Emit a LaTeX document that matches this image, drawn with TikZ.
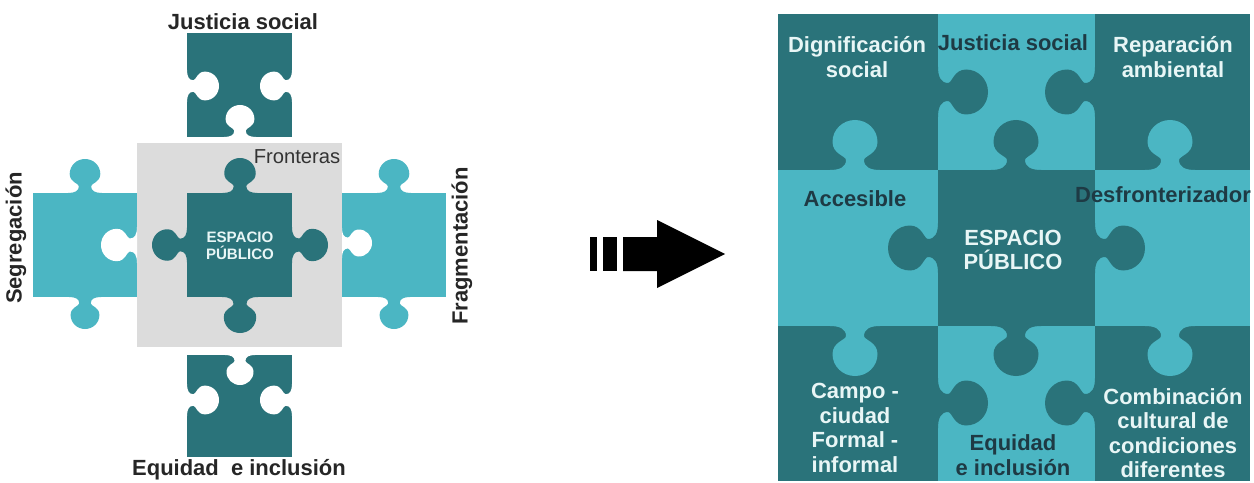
\documentclass[tikz,border=0pt]{standalone}
\usepackage{fontspec}
\setmainfont{Liberation Sans}
\definecolor{dk}{HTML}{2A737A}
\definecolor{lt}{HTML}{4BB6C3}
\definecolor{gr}{HTML}{DCDCDC}
\definecolor{txd}{HTML}{1E3A44}
\definecolor{txl}{HTML}{E8F6F6}
\newcommand{\jtab}[5]{%
  \fill[#1, shift={(#2,#3)}, rotate=#4, scale=#5]
    (-0.5,0) .. controls (-0.3,0) and (-0.18,0.06) .. (-0.18,0.2)
    .. controls (-0.18,0.28) and (-0.45,0.32) .. (-0.45,0.56)
    .. controls (-0.45,0.81) and (-0.245,1) .. (0,1)
    .. controls (0.245,1) and (0.45,0.81) .. (0.45,0.56)
    .. controls (0.45,0.32) and (0.18,0.28) .. (0.18,0.2)
    .. controls (0.18,0.06) and (0.3,0) .. (0.5,0) -- cycle;}
\tikzset{
  lbl/.style={font=\bfseries\fontsize{12.5}{14}\selectfont, text=black!85, inner sep=0pt},
  gl/.style={font=\bfseries\fontsize{12.5}{14}\selectfont, align=center, inner sep=0pt},
}
\begin{document}
\begin{tikzpicture}[x=0.02cm,y=-0.02cm]
\useasboundingbox (0,0) rectangle (1254,483);
\fill[white] (0,0) rectangle (1254,483);
% ---------- left diagram ----------
\fill[gr] (137,143) rectangle (342,347);
% top piece
\fill[dk] (187,33) rectangle (292,137);
\jtab{white}{187}{86}{90}{32}
\jtab{white}{292}{86}{-90}{32}
\jtab{white}{240}{137}{180}{32}
% bottom piece
\fill[dk] (187,355) rectangle (292,457);
\jtab{white}{240}{355}{0}{30}
\jtab{white}{187}{400}{90}{32}
\jtab{white}{292}{400}{-90}{32}
% left piece
\fill[lt] (33,193) rectangle (137,297);
\jtab{white}{137}{245}{-90}{36}
\jtab{lt}{85}{193}{180}{34}
\jtab{lt}{85}{297}{0}{32}
% right piece
\fill[lt] (342,193) rectangle (446,297);
\jtab{white}{342}{243}{90}{30}
\jtab{lt}{394}{193}{180}{34}
\jtab{lt}{394}{297}{0}{32}
% center piece
\fill[dk] (187,193) rectangle (292,297);
\jtab{dk}{240}{193}{180}{35}
\jtab{dk}{240}{297}{0}{36}
\jtab{dk}{187}{245}{-90}{35}
\jtab{dk}{292}{245}{90}{36}
% labels
\node[lbl] (js) at (243,22) {Justicia social};
\node[lbl] (ei) at (239,470) {Equidad\ \ e inclusión};
\node[lbl, rotate=90] (sg) at (16,238) {Segregación};
\node[lbl, rotate=90] (fr) at (462,246) {Fragmentación};
\node[font=\fontsize{11.5}{13}\selectfont, text=black!80, inner sep=0pt] (fn) at (297,157) {Fronteras};
\node[font=\bfseries\fontsize{8.6}{10}\selectfont, text=txl, align=center, inner sep=0pt] (ep) at (240,246) {ESPACIO\\PÚBLICO};
% ---------- arrow ----------
\fill[black] (590,237) rectangle (597,271);
\fill[black] (603,237) rectangle (617,271);
\fill[black] (623,237) -- (657,237) -- (657,220) -- (725,254) -- (657,288) -- (657,271) -- (623,271) -- cycle;
% ---------- right grid ----------
\fill[dk] (778,14) rectangle (938,170);
\fill[lt] (938,14) rectangle (1095,170);
\fill[dk] (1095,14) rectangle (1250,170);
\fill[lt] (778,170) rectangle (938,326);
\fill[dk] (938,170) rectangle (1095,326);
\fill[lt] (1095,170) rectangle (1250,326);
\fill[dk] (778,326) rectangle (938,481);
\fill[lt] (938,326) rectangle (1095,481);
\fill[dk] (1095,326) rectangle (1250,481);
% dark tabs
\jtab{dk}{938}{92}{90}{50}
\jtab{dk}{1095}{92}{-90}{50}
\jtab{dk}{1016}{170}{180}{50}
\jtab{dk}{1016}{326}{0}{50}
\jtab{dk}{938}{248}{-90}{50}
\jtab{dk}{1095}{248}{90}{50}
\jtab{dk}{938}{403}{90}{50}
\jtab{dk}{1095}{403}{-90}{50}
% light tabs
\jtab{lt}{855}{170}{180}{50}
\jtab{lt}{855}{326}{0}{50}
\jtab{lt}{1170}{170}{180}{50}
\jtab{lt}{1170}{326}{0}{50}
% grid labels
\node[gl, text=txl] (dg) at (857,57) {Dignificación\\social};
\node[gl, text=txd] (jr) at (1013,43) {Justicia social};
\node[gl, text=txl] (rp) at (1173,57) {Reparación\\ambiental};
\node[gl, text=txd] (ac) at (855,199) {Accesible};
\node[gl, text=txd] (df) at (1163,195) {Desfronterizador};
\node[gl, text=txl] (es) at (1013,250) {ESPACIO\\PÚBLICO};
\node[gl, text=txl] (cc) at (855,428) {Campo -\\ciudad\\Formal -\\informal};
\node[gl, text=txd] (eq) at (1013,455) {Equidad\\e inclusión};
\node[gl, text=txl] (cb) at (1173,433) {Combinación\\cultural de\\condiciones\\diferentes};
\end{tikzpicture}
\end{document}
